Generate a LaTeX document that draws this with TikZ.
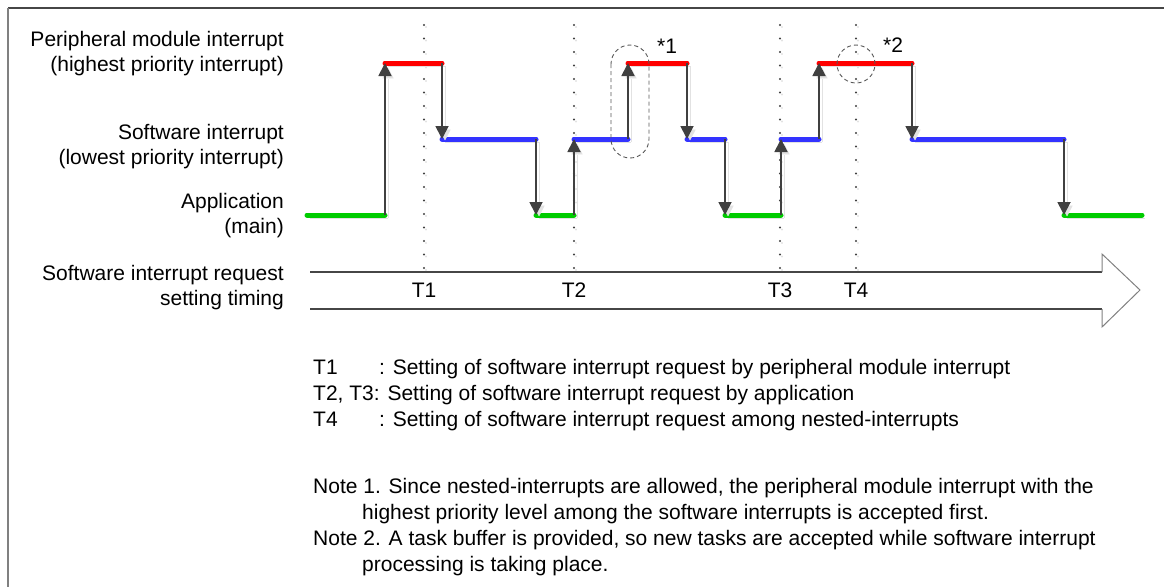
\documentclass[tikz,border=0pt]{standalone}
\usepackage{fontspec}
\setmainfont{Liberation Sans}
\usetikzlibrary{arrows.meta}
\definecolor{pmired}{RGB}{255,0,0}
\definecolor{swiblue}{RGB}{51,51,255}
\definecolor{appgreen}{RGB}{0,204,0}
\definecolor{arrowgray}{RGB}{64,64,64}
\definecolor{shadowgray}{RGB}{226,226,226}
\definecolor{framegray}{RGB}{70,70,70}

\begin{document}
\begin{tikzpicture}[x=1pt, y=-1pt,
    font=\fontsize{21}{25}\selectfont,
    shadowed/.style={preaction={draw=shadowgray, transform canvas={shift={(3pt,-3pt)}}}},
    level/.style={shadowed, line width=5pt, line cap=round},
    perint/.style={level, draw=pmired},
    swint/.style={level, draw=swiblue},
    appl/.style={level, draw=appgreen},
    steparr/.style={shadowed, draw=arrowgray, line width=1.8pt, -{Triangle[length=13pt, width=13pt]}},
    timing/.style={draw=arrowgray, line width=2.4pt, line cap=round, dash pattern=on 0pt off 13.5pt},
    nestmark/.style={draw=black!65, line width=0.9pt, dash pattern=on 4pt off 3pt},
    txt/.style={inner sep=0pt}]

    \useasboundingbox (0,0) rectangle (1164,587);

    % frame
    \draw[framegray, line width=2pt] (8,8) -- (1164,8);
    \draw[gray, line width=1.5pt] (8,8) -- (8,587);

    % row labels
    \node[txt, anchor=base east] (pmi1) at (284,46) {Peripheral module interrupt};
    \node[txt, anchor=base east] (pmi2) at (284,71) {(highest priority interrupt)};
    \node[txt, anchor=base east] (swi1) at (284,139) {Software interrupt};
    \node[txt, anchor=base east] (swi2) at (284,164) {(lowest priority interrupt)};
    \node[txt, anchor=base east] (app1) at (284,208) {Application};
    \node[txt, anchor=base east] (app2) at (284,233) {(main)};
    \node[txt, anchor=base east] (req1) at (284,280) {Software interrupt request};
    \node[txt, anchor=base east] (req2) at (284,305) {setting timing};

    % timing arrow
    \coordinate (shafttop) at (310,272);
    \coordinate (shaftbot) at (310,309);
    \coordinate (headtip) at (1140,290);
    \draw[framegray, line width=1.5pt] (shafttop) -- (1102,272);
    \draw[framegray, line width=1.5pt] (shaftbot) -- (1102,309);
    \draw[gray, line width=1pt] (1102,272) -- (1102,254) -- (headtip) -- (1102,327) -- (1102,309);

    % request timings
    \foreach \x/\t [count=\i] in {424/T1, 574/T2, 780/T3, 856/T4} {
        \coordinate (t\i top) at (\x,25);
        \node[txt, anchor=base] (t\i) at (\x,297) {\t};
        \draw[timing, draw=shadowgray] ([shift={(2,2)}]t\i top) -- ([shift={(2,2)}]t\i top |- shafttop);
        \draw[timing] (t\i top) -- (t\i top |- shafttop);
    }

    % execution levels
    \foreach \x/\y [count=\i from 0] in {307/215, 385/215, 385/63, 442/63, 442/139, 536/139,
        536/215, 574/215, 574/139, 628/139, 628/63, 687/63, 687/139, 725/139, 725/215,
        781/215, 781/139, 819/139, 819/63, 912/63, 912/139, 1064/139, 1064/215, 1142/215}
        \coordinate (p\i) at (\x,\y);
    \foreach \a/\b/\c in {0/1/appl, 2/3/perint, 4/5/swint, 6/7/appl, 8/9/swint, 10/11/perint,
        12/13/swint, 14/15/appl, 16/17/swint, 18/19/perint, 20/21/swint, 22/23/appl}
        \draw[\c] (p\a) -- (p\b);
    \foreach \a/\b in {1/2, 3/4, 5/6, 7/8, 9/10, 11/12, 13/14, 15/16, 17/18, 19/20, 21/22}
        \draw[steparr] (p\a) -- (p\b);

    % nested marks
    \draw[nestmark, rounded corners=19pt] (611,45) rectangle (649,158);
    \draw[nestmark] (856,64) circle[radius=19pt];
    \node[txt, anchor=base] (note1) at (667,53) {*1};
    \node[txt, anchor=base] (note2) at (893,52) {*2};

    % legend
    \node[txt, anchor=base west] (lg1) at (313,374) {T1};
    \node[txt, anchor=base west] (lg1t) at (379,374) {: Setting of software interrupt request by peripheral module interrupt};
    \node[txt, anchor=base west] (lg2) at (313,400) {T2, T3: Setting of software interrupt request by application};
    \node[txt, anchor=base west] (lg3) at (313,426) {T4};
    \node[txt, anchor=base west] (lg3t) at (379,426) {: Setting of software interrupt request among nested-interrupts};

    % notes
    \node[txt, anchor=base west] (n1a) at (313,493) {Note 1. Since nested-interrupts are allowed, the peripheral module interrupt with the};
    \node[txt, anchor=base west] (n1b) at (362,519) {highest priority level among the software interrupts is accepted first.};
    \node[txt, anchor=base west] (n2a) at (313,545) {Note 2. A task buffer is provided, so new tasks are accepted while software interrupt};
    \node[txt, anchor=base west] (n2b) at (362,571) {processing is taking place.};
\end{tikzpicture}
\end{document}
